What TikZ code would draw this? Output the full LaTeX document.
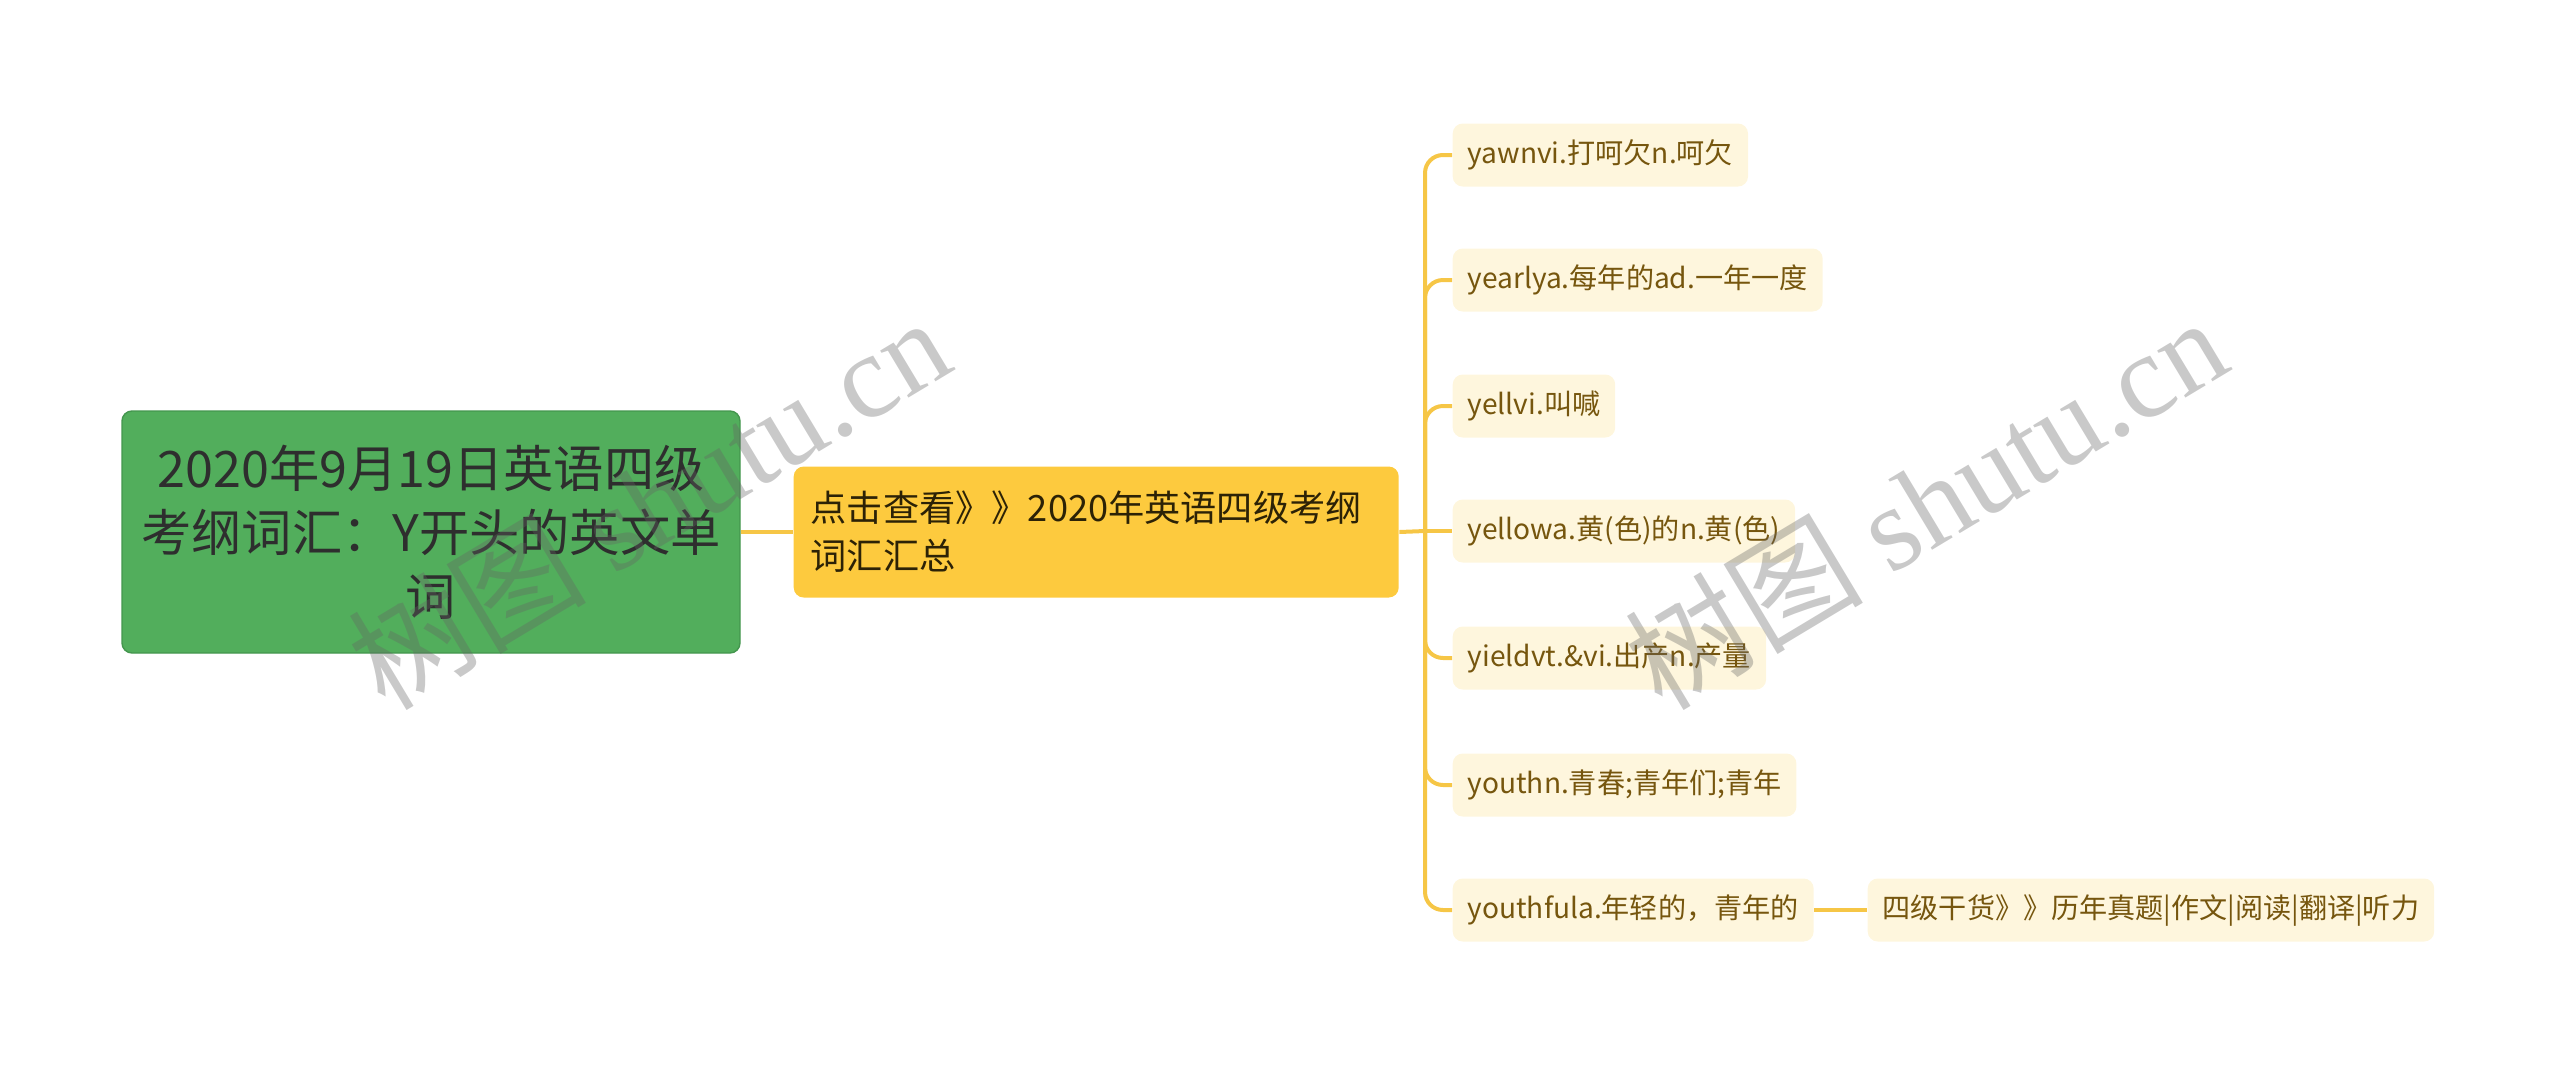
\documentclass[tikz,border=0pt]{standalone}
\usepackage{fontspec}
\setmainfont{Noto Sans CJK SC}
\newfontfamily\markfont{Liberation Serif}
\usepackage{xcolor}
\usepackage{tikz}
\definecolor{rootgreen}{RGB}{82,174,92}
\definecolor{rootedge}{RGB}{68,150,78}
\definecolor{midyellow}{RGB}{253,202,62}
\definecolor{midtext}{RGB}{44,34,6}
\definecolor{leafcream}{RGB}{254,246,221}
\definecolor{leafbrown}{RGB}{118,86,14}
\definecolor{linkyellow}{RGB}{246,198,70}
\definecolor{markgray}{RGB}{100,100,100}

\tikzset{
  rootbox/.style={draw=rootedge, fill=rootgreen, rounded corners=0.1cm, minimum width=6.18cm, minimum height=2.42cm, align=center, text=black!82, font=\fontsize{14.3pt}{18.2pt}\selectfont},
  midbox/.style={fill=midyellow, rounded corners=0.1cm, minimum height=1.31cm, text width=5.71cm, inner xsep=0.17cm, align=left, text=midtext, font=\fontsize{10.3pt}{13.6pt}\selectfont, anchor=west},
  leafbox/.style={fill=leafcream, rounded corners=0.1cm, minimum height=0.63cm, inner xsep=0.15cm, text=leafbrown, font=\fontsize{8pt}{9pt}\selectfont, anchor=west},
  link/.style={draw=linkyellow, line width=0.04cm},
  watermark/.style={text=markgray, text opacity=0.35, font=\fontsize{34pt}{34pt}\selectfont, rotate=31}
}

\begin{document}
\begin{tikzpicture}
    \useasboundingbox (0,0) rectangle (25.6,-10.65);

    \node[rootbox] (root) at (4.31,-5.32) {2020年9月19日英语四级\\考纲词汇：Y开头的英文单\\词};
    \node[midbox] (sum) at (7.93,-5.32) {点击查看》》2020年英语四级考纲\\词汇汇总};
    \coordinate (fork) at (14.25,-5.31);

    \node[leafbox] (yawn) at (14.52,-1.55) {yawnvi.打呵欠n.呵欠};
    \node[leafbox] (yearly) at (14.52,-2.80) {yearlya.每年的ad.一年一度};
    \node[leafbox] (yell) at (14.52,-4.06) {yellvi.叫喊};
    \node[leafbox] (yellow) at (14.52,-5.31) {yellowa.黄(色)的n.黄(色)};
    \node[leafbox] (yield) at (14.52,-6.58) {yieldvt.\&vi.出产n.产量};
    \node[leafbox] (youth) at (14.52,-7.85) {youthn.青春;青年们;青年};
    \node[leafbox] (youthful) at (14.52,-9.10) {youthfula.年轻的，青年的};
    \node[leafbox] (tips) at (18.67,-9.10) {四级干货》》历年真题|作文|阅读|翻译|听力};

    \draw[link] (root) -- (sum);
    \draw[link] (sum.east) -- (fork);
    \draw[link, rounded corners=0.18cm] (fork) |- (yawn.west);
    \draw[link, rounded corners=0.18cm] (fork) |- (yearly.west);
    \draw[link, rounded corners=0.18cm] (fork) |- (yell.west);
    \draw[link] (fork) -- (yellow.west);
    \draw[link, rounded corners=0.18cm] (fork) |- (yield.west);
    \draw[link, rounded corners=0.18cm] (fork) |- (youth.west);
    \draw[link, rounded corners=0.18cm] (fork) |- (youthful.west);
    \draw[link] (youthful) -- (tips);

    % watermarks
    \node[watermark] (markA) at (6.48,-5.02) {树图 {\markfont shutu.cn}};
    \node[watermark] (markB) at (19.25,-5.02) {树图 {\markfont shutu.cn}};
\end{tikzpicture}
\end{document}
